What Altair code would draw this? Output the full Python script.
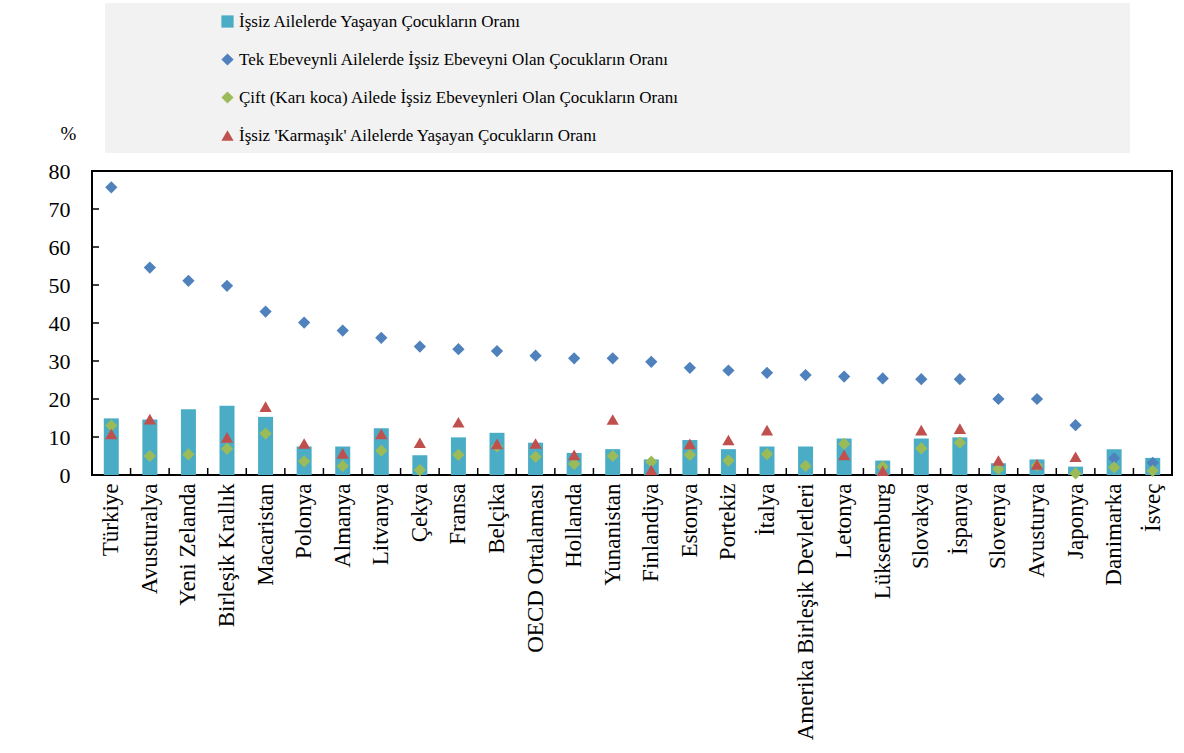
import altair as alt
import pandas as pd

countries = [
    "Türkiye", "Avusturalya", "Yeni Zelanda", "Birleşik Krallık", "Macaristan",
    "Polonya", "Almanya", "Litvanya", "Çekya", "Fransa", "Belçika",
    "OECD Ortalaması", "Hollanda", "Yunanistan", "Finlandiya", "Estonya",
    "Portekiz", "İtalya", "Amerika Birleşik Devletleri", "Letonya", "Lüksemburg",
    "Slovakya", "İspanya", "Slovenya", "Avusturya", "Japonya", "Danimarka", "İsveç",
]

# share of children living in jobless households (bars)
jobless_households = [
    14.9, 14.6, 17.3, 18.2, 15.3, 7.5, 7.5, 12.3, 5.2, 9.9, 11.1, 8.5, 5.8, 6.8,
    4.1, 9.2, 6.8, 7.5, 7.5, 9.6, 3.8, 9.6, 9.9, 3.1, 4.1, 2.2, 6.8, 4.5,
]
# single-parent households with a jobless parent
single_parent = [
    75.7, 54.6, 51.1, 49.8, 43.0, 40.1, 38.0, 36.1, 33.8, 33.1, 32.6, 31.4, 30.7, 30.7,
    29.8, 28.2, 27.5, 26.9, 26.3, 25.9, 25.4, 25.2, 25.2, 20.0, 20.0, 13.1, 4.4, 3.2,
]
# couple households with jobless parents
couple = [
    13.0, 5.0, 5.4, 6.9, 10.9, 3.6, 2.4, 6.4, 1.3, 5.3, 7.5, 4.8, 2.9, 5.0,
    3.5, 5.3, 3.8, 5.5, 2.4, 8.2, 2.2, 7.0, 8.5, 1.6, 2.5, 0.4, 2.0, 1.1,
]
# 'complex' jobless households (None = not reported)
complex_hh = [
    10.8, 14.7, None, 9.9, 18.0, 8.3, 5.7, 10.8, 8.5, 13.9, 8.2, 8.3, 5.3, 14.6,
    1.3, 8.2, 9.2, 11.8, None, 5.3, 1.1, 11.8, 12.2, 3.8, 2.8, 4.8, None, None,
]

series_names = [
    "İşsiz Ailelerde Yaşayan Çocukların Oranı",
    "Tek Ebeveynli Ailelerde İşsiz Ebeveyni Olan Çocukların Oranı",
    "Çift (Karı koca) Ailede İşsiz Ebeveynleri Olan Çocukların Oranı",
    "İşsiz 'Karmaşık' Ailelerde Yaşayan Çocukların Oranı",
]
series_colors = ["#4BACC6", "#4F81BD", "#9BBB59", "#C0504D"]
series_shapes = ["square", "diamond", "diamond", "triangle-up"]
series_sizes = [150, 150, 150, 230]
y_ticks = [0, 10, 20, 30, 40, 50, 60, 70, 80]

FONT = "Liberation Serif"

bars_df = pd.DataFrame({"country": countries, "value": jobless_households})

rows = []
for rank, (name, vals) in enumerate(zip(series_names[1:], [single_parent, couple, complex_hh])):
    for c, v in zip(countries, vals):
        if v is not None:
            rows.append({"country": c, "series": name, "value": v, "rank": rank})
points_df = pd.DataFrame(rows)

x_scale = alt.Scale(domain=countries, paddingInner=0, paddingOuter=0)
y_scale = alt.Scale(domain=[0, 80], nice=False, zero=True)

x_axis = alt.Axis(
    title=None, labelAngle=270, labelAlign="right", labelBaseline="middle",
    labelFont=FONT, labelFontSize=23, labelColor="black", labelPadding=8,
    labelLimit=500, ticks=False, domain=False, grid=False,
)
y_axis = alt.Axis(
    values=y_ticks, title="%", titleAngle=0, titleAlign="center",
    titleBaseline="middle", titleX=-24, titleY=-38, titleFont=FONT,
    titleFontSize=19, titleFontWeight="normal", titleColor="black",
    labelFont=FONT, labelFontSize=22, labelColor="black", labelPadding=22,
    labelOverlap=False, ticks=False, domain=False, grid=False,
)

legend_def = alt.Legend(orient="none", legendX=127, legendY=-158, title=None)

bars = alt.Chart(bars_df).mark_bar(size=15, color="#4BACC6").encode(
    x=alt.X("country:N", scale=x_scale, axis=x_axis),
    y=alt.Y("value:Q", scale=y_scale, axis=y_axis),
)

points = alt.Chart(points_df).mark_point(filled=True, opacity=1).encode(
    x=alt.X("country:N", scale=x_scale, axis=x_axis),
    y=alt.Y("value:Q", scale=y_scale, axis=y_axis),
    color=alt.Color(
        "series:N",
        scale=alt.Scale(domain=series_names, range=series_colors),
        legend=legend_def,
    ),
    shape=alt.Shape(
        "series:N",
        scale=alt.Scale(domain=series_names, range=series_shapes),
        legend=legend_def,
    ),
    size=alt.Size(
        "series:N",
        scale=alt.Scale(domain=series_names, range=series_sizes),
        legend=None,
    ),
    order=alt.Order("rank:Q"),
)

# inward tick marks on the value axis
ytick_df = pd.DataFrame({"t": y_ticks})
yticks = alt.Chart(ytick_df).mark_rule(color="black", strokeWidth=1.5).encode(
    y=alt.Y("t:Q", scale=y_scale, axis=y_axis),
    x=alt.value(0),
    x2=alt.value(7),
)

# inward tick marks between the country bands
xticks = alt.Chart(bars_df).mark_rule(color="black", strokeWidth=1.5).encode(
    x=alt.X("country:N", scale=x_scale, axis=x_axis, bandPosition=0),
    y=alt.value(304),
    y2=alt.value(297),
)

# grey panel behind the legend
legend_bg = alt.Chart(pd.DataFrame({"k": [0]})).mark_rect(color="#F2F2F2").encode(
    x=alt.value(13), x2=alt.value(1038), y=alt.value(-168), y2=alt.value(-18)
)

chart = alt.layer(legend_bg, bars, points, yticks, xticks).properties(
    width=1080,
    height=304,
    autosize=alt.AutoSizeParams(type="none"),
    padding={"left": 92, "top": 171, "right": 12, "bottom": 278},
    background="white",
).configure_view(
    stroke="black", strokeWidth=2
).configure_legend(
    labelFont=FONT, labelFontSize=17, labelColor="black", labelLimit=900,
    labelOffset=3, symbolSize=110, symbolStrokeWidth=0, rowPadding=20,
    direction="vertical", symbolType="square",
)

chart.save("out.html", embed_options={"renderer": "svg", "actions": False})
